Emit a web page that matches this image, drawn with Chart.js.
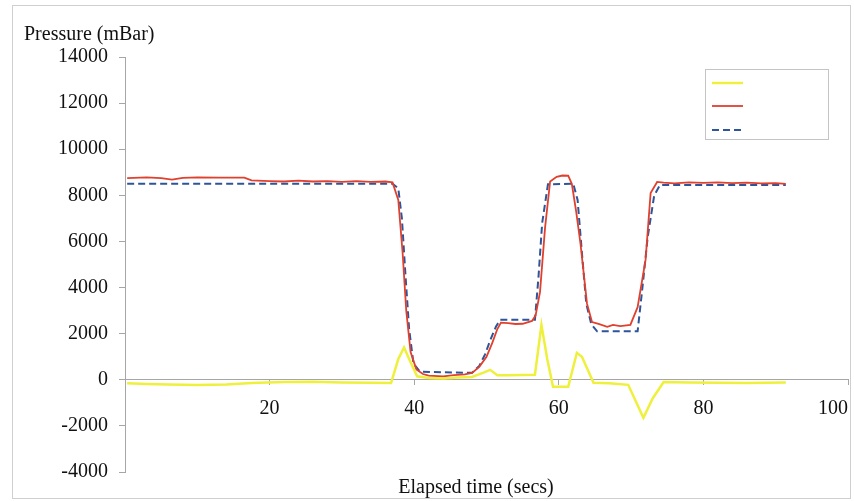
<!DOCTYPE html>
<html>
<head>
<meta charset="utf-8">
<script src="https://cdn.jsdelivr.net/npm/chart.js@4/dist/chart.umd.min.js"></script>
<style>
  html, body { margin: 0; padding: 0; background: #ffffff; }
  #wrap { width: 854px; height: 501px; position: relative; }
</style>
</head>
<body>
<div id="wrap"><canvas id="c" width="854" height="501"></canvas></div>
<script>
// ---- Data (elapsed time in secs, pressure in mBar) ----
const seriesNames = ["Differential", "Measured", "Setpoint"];

const tYellow = [0.3, 3, 6, 10, 14, 17.5, 22, 26, 30, 34, 36.8, 37.8, 38.6, 39.3, 40.4, 42, 44, 46, 48, 49.5, 50.5, 51.5, 53, 56.7, 57.6, 58.4, 59.2, 61.3, 62.5, 63.2, 64.8, 67, 69.6, 71.7, 73, 74.5, 78, 82, 86, 91.4];
const yellow  = [-150, -180, -200, -230, -210, -140, -100, -90, -120, -130, -140, 900, 1400, 900, 150, 80, 60, 100, 120, 300, 430, 200, 200, 220, 2380, 900, -300, -300, 1170, 1000, -130, -150, -220, -1650, -800, -100, -120, -130, -140, -120];

const tRed = [0.3, 3, 5, 6.5, 8, 10, 13, 16.5, 17.5, 20, 22, 24, 26, 28, 30, 32, 34, 36, 37, 37.8, 38.4, 38.9, 39.5, 40.3, 41.2, 42, 44, 45.5, 47, 48, 49, 50, 50.8, 51.5, 52, 53, 54, 55, 56.3, 56.8, 57.4, 58.1, 58.8, 59.7, 60.5, 61.3, 61.8, 62.4, 63, 63.9, 64.6, 65.5, 66.7, 67.5, 68.5, 69.9, 70.9, 72, 72.7, 73.6, 74.5, 76, 78, 80, 82, 84, 86, 88, 90, 91.4];
const red  = [8750, 8780, 8750, 8680, 8760, 8780, 8770, 8770, 8650, 8620, 8600, 8640, 8600, 8620, 8580, 8620, 8580, 8600, 8560, 7800, 5500, 3000, 1200, 450, 250, 180, 150, 200, 230, 300, 560, 1000, 1600, 2200, 2480, 2460, 2420, 2430, 2550, 2800, 3800, 6600, 8600, 8800, 8860, 8850, 8500, 7300, 5900, 3300, 2500, 2420, 2300, 2380, 2330, 2380, 3150, 5200, 8100, 8580, 8550, 8520, 8560, 8540, 8560, 8530, 8550, 8520, 8530, 8500];

const tBlue = [0.3, 37, 37.8, 38.3, 38.8, 39.3, 39.9, 40.8, 48, 49, 49.8, 50.5, 51.3, 51.9, 56.7, 57.2, 57.7, 58.5, 62, 62.6, 63.2, 63.8, 64.5, 65.3, 70.9, 71.5, 72.3, 73.2, 74, 91.4];
const blue  = [8500, 8500, 8300, 7000, 4500, 2200, 700, 350, 300, 600, 1100, 1700, 2300, 2600, 2600, 4500, 6800, 8480, 8500, 7800, 5500, 3300, 2400, 2100, 2100, 3800, 6200, 8000, 8450, 8450];

const xTicks = [0, 20, 40, 60, 80, 100];
const yTicks = [-4000, -2000, 0, 2000, 4000, 6000, 8000, 10000, 12000, 14000];

const yTitle = "Pressure (mBar)";
const xTitle = "Elapsed time (secs)";

const toPts = (ts, vs) => ts.map((t, i) => ({ x: t, y: vs[i] }));

const FONT = "'Liberation Serif', 'Times New Roman', serif";
const AXIS = '#a6a6a6';

const decorPlugin = {
  id: 'decor',
  beforeDraw(chart) {
    const ctx = chart.ctx;
    ctx.save();
    ctx.strokeStyle = '#cfcfcf';
    ctx.lineWidth = 1;
    ctx.strokeRect(12.5, 5.5, 838, 493);
    ctx.restore();
  },
  afterDraw(chart) {
    const ctx = chart.ctx;
    ctx.save();
    ctx.fillStyle = '#111';
    ctx.font = "20px " + FONT;
    ctx.textBaseline = 'middle';
    ctx.textAlign = 'left';
    ctx.fillText(yTitle, 24, 35);
    ctx.textAlign = 'center';
    ctx.fillText(xTitle, 476, 488);
    // legend box (symbols only, as in the reference)
    ctx.fillStyle = '#ffffff';
    ctx.fillRect(705, 69, 123, 70);
    ctx.strokeStyle = '#c4c4c4';
    ctx.lineWidth = 1;
    ctx.strokeRect(705.5, 69.5, 123, 70);
    const ys = [83, 106, 130];
    chart.data.datasets.forEach((ds, i) => {
      ctx.beginPath();
      ctx.strokeStyle = ds.borderColor;
      ctx.lineWidth = ds.borderWidth;
      ctx.setLineDash(ds.borderDash || []);
      ctx.moveTo(712, ys[i]);
      ctx.lineTo(743, ys[i]);
      ctx.stroke();
    });
    ctx.restore();
  }
};

new Chart(document.getElementById('c'), {
  type: 'line',
  data: {
    datasets: [
      { label: seriesNames[0], data: toPts(tYellow, yellow), borderColor: '#eef03c', borderWidth: 2.5, pointRadius: 0, tension: 0, fill: false },
      { label: seriesNames[1], data: toPts(tRed, red), borderColor: '#e0402e', borderWidth: 1.8, pointRadius: 0, tension: 0, fill: false },
      { label: seriesNames[2], data: toPts(tBlue, blue), borderColor: '#2e5499', borderWidth: 2, borderDash: [7, 4], pointRadius: 0, tension: 0, fill: false }
    ]
  },
  options: {
    responsive: false,
    animation: false,
    layout: { padding: { left: 0, right: 6, top: 57, bottom: 29 } },
    plugins: { legend: { display: false }, tooltip: { enabled: false } },
    scales: {
      x: {
        type: 'linear',
        position: { y: 0 },
        min: 0, max: 100,
        afterBuildTicks: s => { s.ticks = xTicks.map(v => ({ value: v })); },
        afterFit: s => { s.paddingLeft = 0; s.paddingRight = 0; },
        ticks: { font: { family: FONT, size: 20 }, color: '#111', padding: 12, maxRotation: 0, autoSkip: false, align: 'inner',
                 callback: v => (v === 0 ? '' : String(v)) },
        grid: { display: true, drawOnChartArea: false, drawTicks: true, tickLength: 5, color: AXIS },
        border: { display: true, color: AXIS, width: 1 }
      },
      y: {
        position: 'left',
        min: -4000, max: 14000,
        afterBuildTicks: s => { s.ticks = yTicks.map(v => ({ value: v })); },
        afterFit: s => { s.width = 125; s.paddingTop = 0; s.paddingBottom = 0; },
        ticks: { font: { family: FONT, size: 20 }, color: '#111', padding: 11, autoSkip: false,
                 callback: v => String(v) },
        grid: { display: true, drawOnChartArea: false, drawTicks: true, tickLength: 6, color: AXIS },
        border: { display: true, color: AXIS, width: 1 }
      }
    }
  },
  plugins: [decorPlugin]
});
</script>
</body>
</html>
